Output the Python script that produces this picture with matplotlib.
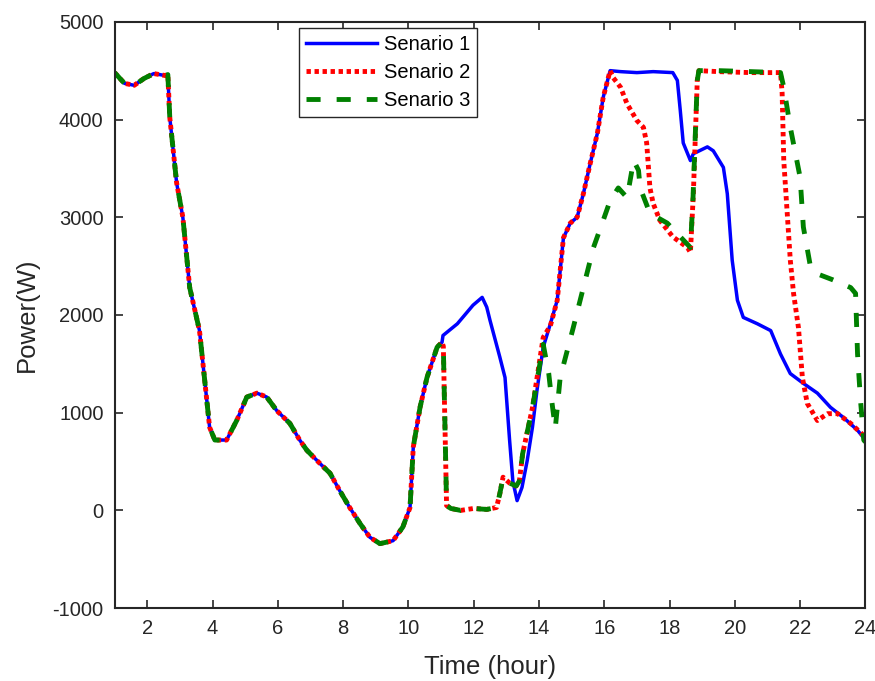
#!/usr/bin/env python

import numpy as np
from matplotlib import pyplot as plt

plt.rcParams['font.family'] = ['Liberation Sans', 'DejaVu Sans']
plt.rcParams['axes.unicode_minus'] = False

# shared part of the three senarios (hour, W)
t_common = [1.0, 1.3, 1.6, 1.9, 2.2, 2.55, 2.63, 2.69, 2.9, 3.09, 3.3, 3.6, 3.76,
            3.91, 4.07, 4.43, 4.74, 5.05, 5.36, 5.66, 5.97, 6.37, 6.67, 6.89, 7.29,
            7.6, 7.9, 8.2, 8.52, 8.82, 9.13, 9.53, 9.83, 10.05, 10.15, 10.36, 10.57,
            10.88, 11.03]
p_common = [4480, 4370, 4350, 4420, 4470, 4450, 4460, 4020, 3350, 3000, 2280, 1840, 1330,
            850, 720, 720, 920, 1160, 1200, 1160, 1020, 890, 720, 615, 480,
            380, 200, 30, -135, -275, -340, -310, -170, 30, 650, 1060, 1360,
            1670, 1720]

# senario 1 after 11h
t_s1 = [11.06, 11.5, 11.98, 12.26, 12.4, 12.5, 12.8, 12.96, 13.1, 13.2, 13.33, 13.48,
        13.64, 13.8, 13.94, 14.13, 14.35, 14.56, 14.75, 14.96, 15.17, 15.36, 15.57,
        15.79, 15.97, 16.18, 16.5, 17.0, 17.5, 18.1, 18.24, 18.33, 18.42, 18.64, 18.73,
        19.16, 19.34, 19.65, 19.77, 19.92, 20.08, 20.26, 20.69, 21.1, 21.4, 21.7, 22.1,
        22.53, 22.93, 23.33, 23.76, 24.0]
p_s1 = [1790, 1910, 2100, 2180, 2080, 1945, 1570, 1360, 720, 300, 100, 235,
        510, 850, 1230, 1670, 1910, 2150, 2790, 2940, 3000, 3240, 3550,
        3860, 4230, 4500, 4490, 4480, 4490, 4480, 4400, 4090, 3760, 3580, 3650,
        3720, 3680, 3510, 3240, 2560, 2150, 1975, 1910, 1840, 1600, 1400, 1300,
        1200, 1055, 950, 820, 720]

# senario 2 after 11h
t_s2 = [11.07, 11.17, 11.3, 11.6, 12.0, 12.4, 12.7, 12.8, 12.9, 13.1, 13.3, 13.4,
        13.5, 13.8, 14.13, 14.35, 14.56, 14.75, 14.96, 15.17, 15.36, 15.57, 15.79,
        15.97, 16.18, 16.27, 16.5, 16.7, 17.0, 17.2, 17.3, 17.4, 17.5, 17.7, 18.1,
        18.55, 18.64, 18.73, 18.85, 18.9, 19.5, 20.5, 21.4, 21.45, 21.5, 21.6, 21.7,
        21.8, 21.95, 22.07, 22.22, 22.53, 22.84, 23.15, 23.55, 24.0]
p_s2 = [1680, 50, 20, 0, 20, 10, 30, 170, 340, 280, 250, 300,
        580, 1050, 1770, 1890, 2150, 2790, 2940, 3000, 3240, 3550, 3860,
        4230, 4500, 4430, 4330, 4160, 3990, 3920, 3760, 3300, 3140, 2970, 2800,
        2690, 2640, 3240, 4400, 4500, 4490, 4480, 4480, 4270, 3580, 3070, 2560,
        2220, 1870, 1360, 1095, 920, 990, 990, 890, 750]

# senario 3 after 11h
t_s3 = [11.07, 11.17, 11.3, 11.6, 12.0, 12.4, 12.7, 12.8, 12.9, 13.1, 13.3, 13.4,
        13.5, 13.8, 14.13, 14.3, 14.4, 14.5, 14.65, 15.05, 15.36, 15.67, 15.97,
        16.18, 16.43, 16.7, 16.9, 17.05, 17.1, 17.4, 17.93, 18.33, 18.64, 18.72,
        18.85, 18.9, 19.5, 20.5, 21.4, 21.5, 21.7, 22.0, 22.1, 22.32, 22.53, 23.0,
        23.55, 23.7, 23.72, 23.76, 23.85, 23.95, 24.0]
p_s3 = [1680, 50, 20, 0, 20, 10, 30, 170, 340, 280, 250, 300,
        580, 1050, 1700, 1400, 1100, 840, 1360, 1870, 2280, 2690, 2970,
        3170, 3300, 3200, 3580, 3480, 3300, 3040, 2940, 2800, 2690, 3200,
        4400, 4500, 4500, 4490, 4480, 4330, 3920, 3410, 2900, 2490, 2420, 2360,
        2280, 2220, 2010, 1600, 1130, 720, 700]

x_ticks = [2, 4, 6, 8, 10, 12, 14, 16, 18, 20, 22, 24]
y_ticks = [-1000, 0, 1000, 2000, 3000, 4000, 5000]

fig = plt.figure(figsize=(8.75, 6.81), dpi=100)
ax = fig.add_axes([0.131, 0.107, 0.858, 0.861])

ax.plot(t_common + t_s1, p_common + p_s1, '-', color='#0000ff', lw=2.5, label='Senario 1')
ax.plot(t_common + t_s2, p_common + p_s2, color='#ff0000', lw=3.5,
        linestyle=(0, (0.9, 0.75)), label='Senario 2')
ax.plot(t_common + t_s3, p_common + p_s3, color='#008000', lw=3.5,
        linestyle=(0, (2.9, 3.3)), label='Senario 3')

ax.set_xlim(1, 24)
ax.set_ylim(-1000, 5000)
ax.set_xticks(x_ticks)
ax.set_yticks(y_ticks)
ax.tick_params(direction='in', length=6, width=1.2, top=True, right=True,
               labelsize=14.5, colors='#262626', pad=8)
for s in ax.spines.values():
    s.set_linewidth(1.5)
    s.set_color('#262626')

ax.set_xlabel('Time (hour)', fontsize=18.5, color='#262626', labelpad=12)
ax.set_ylabel('Power(W)', fontsize=18.5, color='#262626', labelpad=10)

leg = ax.legend(loc='upper left', bbox_to_anchor=(0.246, 0.99), borderaxespad=0,
                fontsize=14.5, handlelength=3.5, labelspacing=0.45, borderpad=0.35,
                handletextpad=0.35, fancybox=False, framealpha=1, edgecolor='#262626')
leg.get_frame().set_linewidth(1.0)

fig.savefig('out.png', dpi=100)
